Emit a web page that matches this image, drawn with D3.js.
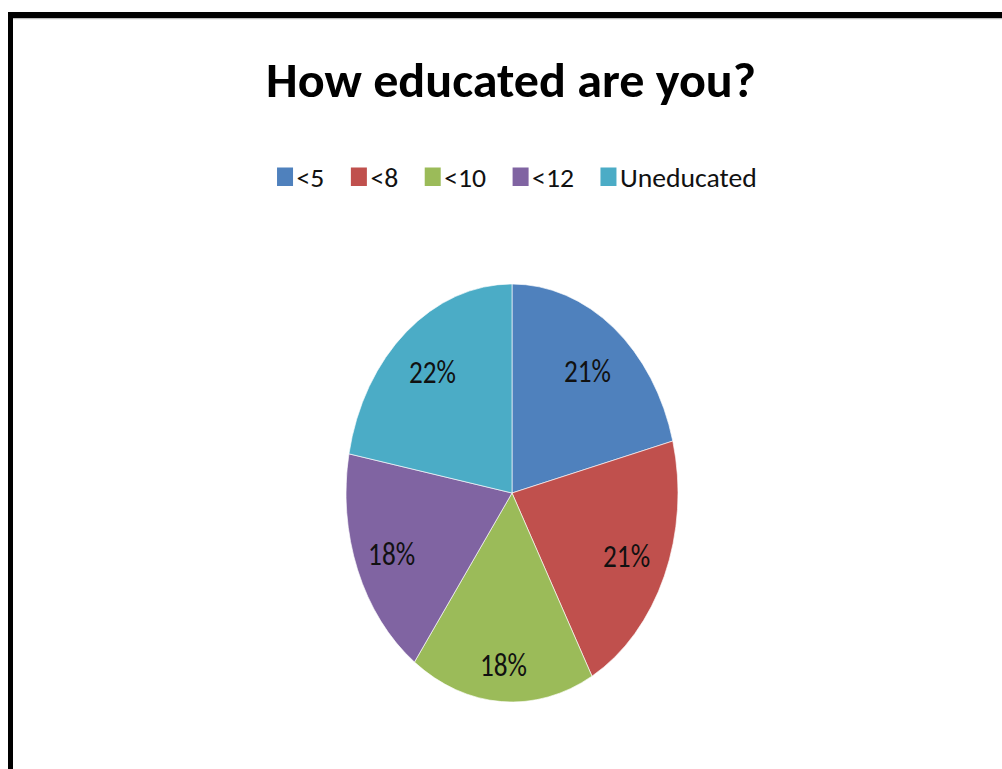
<!DOCTYPE html>
<html>
<head>
<meta charset="utf-8">
<script src="https://cdn.jsdelivr.net/npm/d3@7"></script>
<style>
  html, body { margin: 0; padding: 0; background: #fff; }
  svg { display: block; }
  text { font-family: Carlito, Calibri, Lato, "Open Sans", sans-serif; }
</style>
</head>
<body>
<svg id="chart" width="1002" height="769"></svg>
<script>
// Survey answers: share of respondents per education level
const categories = ["<5", "<8", "<10", "<12", "Uneducated"];
const shares = [21, 21, 18, 18, 22];
const colors = ["#4F81BD", "#C0504D", "#9BBB59", "#8064A2", "#4BACC6"];
const title = "How educated are you?";

// How far out (as a fraction of the radius) each percentage label sits
const labelRadius = [0.742, 0.752, 0.82, 0.78, 0.752];

const svg = d3.select("#chart");
const W = 1002, H = 769;

svg.append("rect").attr("width", W).attr("height", H).attr("fill", "#fff");

// Frame: heavy rule along the top and left edge
svg.append("rect").attr("x", 8).attr("y", 18).attr("width", W - 8).attr("height", 1.2).attr("fill", "#bbb");
svg.append("rect").attr("x", 8).attr("y", 12).attr("width", W - 8).attr("height", 6).attr("fill", "#000");
svg.append("rect").attr("x", 8).attr("y", 12).attr("width", 5).attr("height", H - 12).attr("fill", "#000");

// Fit a text element's width by squeezing it horizontally about its anchor point
function squeeze(sel, x, y, target) {
  const w = sel.node().getComputedTextLength();
  const k = target / w;
  sel.attr("x", 0).attr("y", 0).attr("transform", `translate(${x},${y}) scale(${k},1)`);
  return k;
}

// Title
const t = svg.append("text")
  .attr("text-anchor", "middle")
  .attr("font-size", 48)
  .attr("font-weight", "bold")
  .attr("fill", "#000")
  .text(title);
squeeze(t, 511, 97, 490);

// Legend: squares with labels, laid out left to right and centred
const legendFont = 26;
const legend = svg.append("g");
const probe = legend.append("text").attr("font-size", legendFont).text("Uneducated");
const legendK = 137 / probe.node().getComputedTextLength();
probe.remove();

const sqW = 16, sqH = 18.5, sqGap = 3.5, itemGap = 26.5;
let cursor = 0;
categories.forEach((c, i) => {
  const g = legend.append("g");
  g.append("rect").attr("x", cursor).attr("y", 167.5).attr("width", sqW).attr("height", sqH).attr("fill", colors[i]);
  const tx = g.append("text").attr("font-size", legendFont).attr("fill", "#111").text(c);
  const w = tx.node().getComputedTextLength() * legendK;
  tx.attr("transform", `translate(${cursor + sqW + sqGap},186.5) scale(${legendK},1)`);
  cursor += sqW + sqGap + w + itemGap;
});
const legendWidth = cursor - itemGap;
legend.attr("transform", `translate(${517 - legendWidth / 2},0)`);

// Pie drawn as an ellipse: a circle squashed horizontally
const cx = 512, cy = 493, rx = 166, ry = 209;
const pie = d3.pie().sort(null).value(d => d)(shares);
const arc = d3.arc().innerRadius(0).outerRadius(ry);

const pieG = svg.append("g").attr("transform", `translate(${cx},${cy}) scale(${rx / ry},1)`);
pieG.selectAll("path.slice")
  .data(pie)
  .join("path")
  .attr("class", "slice")
  .attr("d", arc)
  .attr("fill", (d, i) => colors[i])
  .attr("stroke", "rgba(255,255,255,0.7)")
  .attr("stroke-width", 1);

// Percentage labels inside each slice
const total = d3.sum(shares);
const labels = svg.append("g");
pie.forEach((d, i) => {
  const r = ry * labelRadius[i];
  const [lx, ly] = d3.arc().innerRadius(r).outerRadius(r).centroid(d);
  const sx = cx + lx * rx / ry, sy = cy + ly;
  const txt = labels.append("text")
    .attr("text-anchor", "middle")
    .attr("font-size", 32)
    .attr("fill", "#111")
    .text(Math.round(d.value / total * 100) + "%");
  const w = txt.node().getComputedTextLength();
  const k = 47 / w;
  txt.attr("transform", `translate(${sx},${sy + 11.5}) scale(${k},1)`);
});
</script>
</body>
</html>
